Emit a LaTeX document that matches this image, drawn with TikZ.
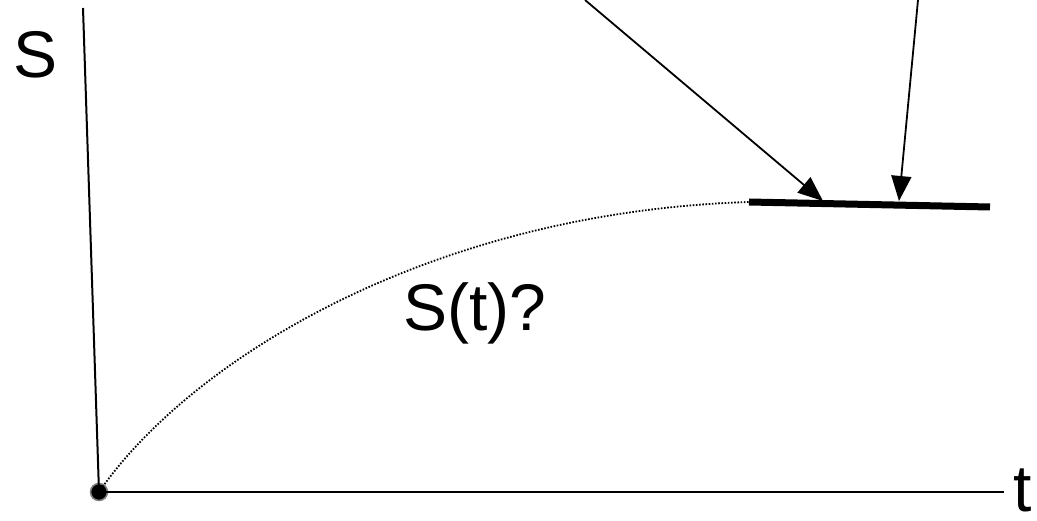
\documentclass[tikz,border=0pt]{standalone}
\usepackage{fontspec}
\setmainfont{Liberation Sans}
\usetikzlibrary{arrows.meta}
\begin{document}
\begin{tikzpicture}[x=1pt,y=-1pt,
  axis/.style={line width=2pt,black},
  pointer/.style={line width=1.8pt,black,-{Triangle[length=25pt,width=20pt]}},
  lbl/.style={font=\fontsize{66}{70}\selectfont,inner sep=0pt}]
\useasboundingbox (0,0) rectangle (1037,521);
\fill[white] (0,0) rectangle (1037,521);
\coordinate (ytop) at (83,8);
\coordinate (xend) at (1004,492);
\node[circle,fill=black,draw=gray,line width=1.5pt,minimum size=17pt,inner sep=0pt] (o) at (99,492) {};
\draw[axis] (ytop) -- (o.center);
\draw[axis] (o.center) -- (xend);
\coordinate (pl) at (749,202);
\coordinate (pr) at (990,207);
\draw[line width=1.8pt,dash pattern=on 1.6pt off 1.6pt] (o.center) .. controls (190,360) and (430,212) .. (pl);
\draw[line width=7pt] (pl) -- (pr);
\coordinate (a1) at (585,0);
\coordinate (b1) at (823,201);
\coordinate (a2) at (918,0);
\coordinate (b2) at (899,201);
\draw[pointer] (a1) -- (b1);
\draw[pointer] (a2) -- (b2);
\node[lbl] (s) at (36,55) {S};
\node[lbl] (st) at (475,313) {S(t)?};
\node[lbl,anchor=west] (t) at (1013,490) {t};
\end{tikzpicture}
\end{document}
